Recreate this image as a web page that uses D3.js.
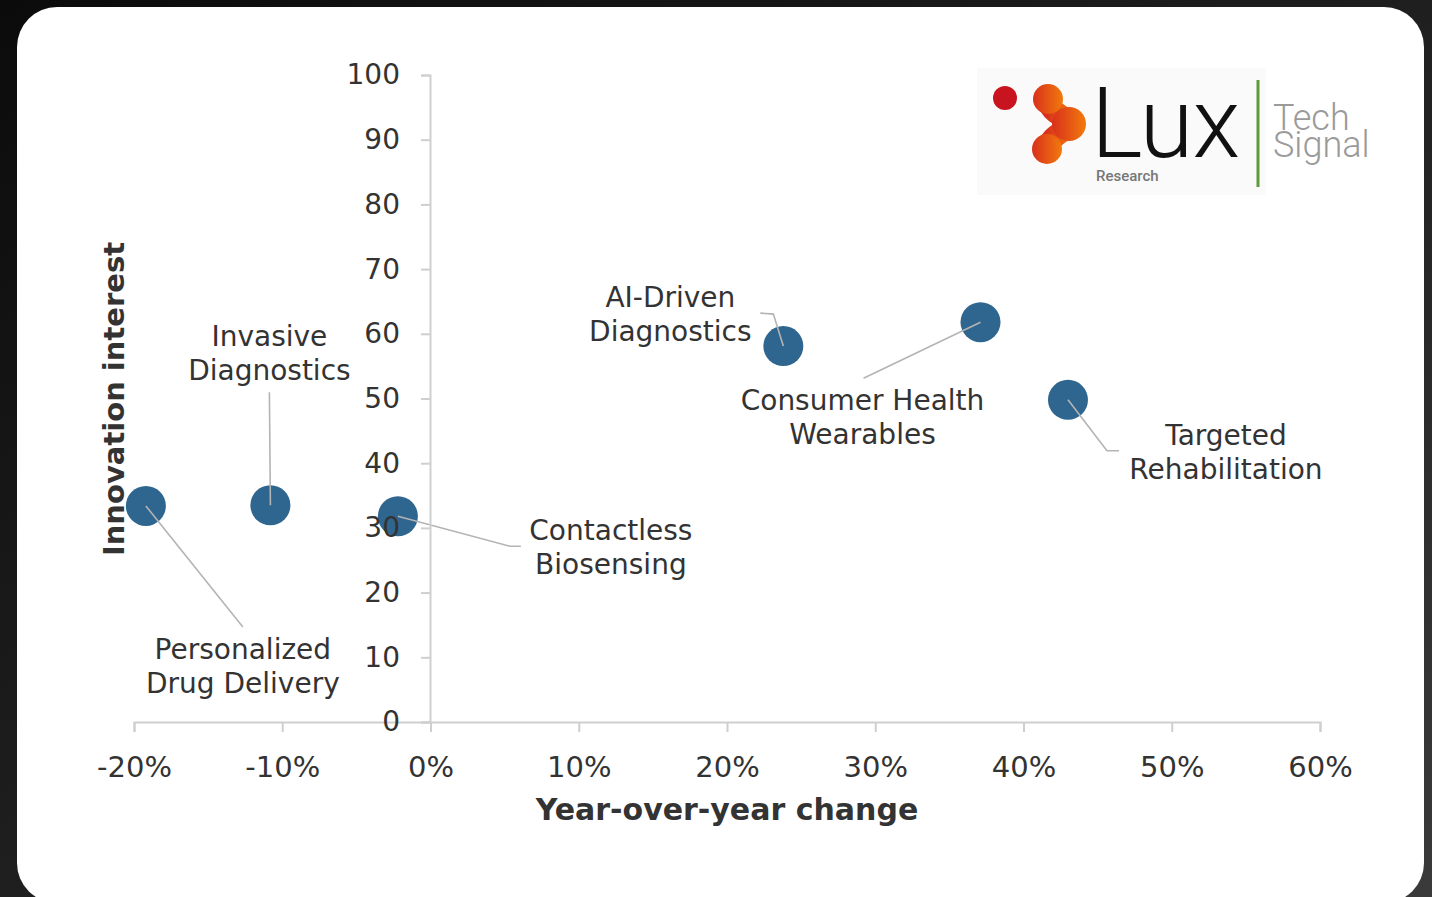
<!DOCTYPE html>
<html>
<head>
<meta charset="utf-8">
<script src="https://cdn.jsdelivr.net/npm/d3@7"></script>
<style>
  body { margin: 0; background: #111; }
  svg { display: block; }
</style>
</head>
<body>
<svg id="chart"></svg>
<script>
// technologies and their values
const technologies = [
  "Personalized Drug Delivery",
  "Invasive Diagnostics",
  "Contactless Biosensing",
  "AI-Driven Diagnostics",
  "Consumer Health Wearables",
  "Targeted Rehabilitation"
];
const labelLines = [
  ["Personalized", "Drug Delivery"],
  ["Invasive", "Diagnostics"],
  ["Contactless", "Biosensing"],
  ["AI-Driven", "Diagnostics"],
  ["Consumer Health", "Wearables"],
  ["Targeted", "Rehabilitation"]
];
const yoyChange = [-0.192, -0.108, -0.022, 0.238, 0.371, 0.430];
const innovationInterest = [33.4, 33.5, 31.8, 58.1, 61.8, 49.8];
const xTicks = [-0.2, -0.1, 0, 0.1, 0.2, 0.3, 0.4, 0.5, 0.6];
const yTicks = [0, 10, 20, 30, 40, 50, 60, 70, 80, 90, 100];

// label placement, pixel offsets from each point
const labelPlacement = [
  { dx: 97, dy: 153, leader: [[97, 121]] },
  { dx: -1, dy: -159, leader: [[-1, -113]] },
  { dx: 213, dy: 24, leader: [[112, 30], [123, 30]] },
  { dx: -113, dy: -39, leader: [[-10, -32], [-23, -33]] },
  { dx: -118, dy: 88, leader: [[-117, 56]] },
  { dx: 158, dy: 45, leader: [[39, 51], [51, 51]] }
];

const W = 1432, H = 897;
const font = "'DejaVu Sans', sans-serif";
const textColor = "#333";
const axisColor = "#cfcfcf";

const data = technologies.map((name, i) => ({
  name,
  lines: labelLines[i],
  x: yoyChange[i],
  y: innovationInterest[i],
  place: labelPlacement[i]
}));

const svg = d3.select("#chart").attr("width", W).attr("height", H);

// dark backdrop and white card
const defs = svg.append("defs");
const bg = defs.append("linearGradient").attr("id", "bg")
  .attr("x1", "0%").attr("y1", "0%").attr("x2", "100%").attr("y2", "100%");
bg.append("stop").attr("offset", "0%").attr("stop-color", "#0b0b0b");
bg.append("stop").attr("offset", "50%").attr("stop-color", "#1f1f1f");
bg.append("stop").attr("offset", "100%").attr("stop-color", "#3a3a3a");

svg.append("rect").attr("width", W).attr("height", H).attr("fill", "url(#bg)");
svg.append("rect")
  .attr("x", 17).attr("y", 7)
  .attr("width", 1407).attr("height", 896)
  .attr("rx", 40).attr("fill", "#fff");

const x = d3.scaleLinear().domain([-0.2, 0.6]).range([134, 1320]);
const y = d3.scaleLinear().domain([0, 100]).range([722, 75]);

// points
svg.append("g")
  .selectAll("circle")
  .data(data)
  .enter()
  .append("circle")
  .attr("cx", (d) => x(d.x))
  .attr("cy", (d) => y(d.y))
  .attr("r", 20)
  .attr("fill", "#2f668f");

// leader lines
svg.append("g")
  .selectAll("path")
  .data(data)
  .enter()
  .append("path")
  .attr("d", (d) => {
    const px = x(d.x), py = y(d.y);
    const pts = [[px, py]].concat(d.place.leader.map((o) => [px + o[0], py + o[1]]));
    return d3.line()(pts);
  })
  .attr("fill", "none")
  .attr("stroke", "#b4b4b4")
  .attr("stroke-width", 1.6);

// axes
const xAxis = svg.append("g")
  .attr("transform", "translate(0,722)")
  .call(d3.axisBottom(x).tickValues(xTicks).tickSize(10).tickPadding(24)
    .tickFormat((d) => d3.format(".0%")(d).replace("−", "-")));

const yAxis = svg.append("g")
  .attr("transform", "translate(430,0)")
  .call(d3.axisLeft(y).tickValues(yTicks).tickSize(9).tickPadding(21));

[xAxis, yAxis].forEach((g) => {
  g.selectAll("path, line").attr("stroke", axisColor).attr("stroke-width", 2);
  g.selectAll("text")
    .attr("fill", textColor)
    .style("font-family", font)
    .style("font-size", "28px");
});
xAxis.selectAll("text").style("font-size", "29px");

// axis titles
svg.append("text")
  .attr("x", 727).attr("y", 820)
  .attr("text-anchor", "middle")
  .attr("fill", textColor)
  .style("font-family", font)
  .style("font-weight", "bold")
  .style("font-size", "30px")
  .text("Year-over-year change");

svg.append("text")
  .attr("transform", "translate(124,399) rotate(-90)")
  .attr("text-anchor", "middle")
  .attr("fill", textColor)
  .style("font-family", font)
  .style("font-weight", "bold")
  .style("font-size", "29px")
  .text("Innovation interest");

// point labels
svg.append("g")
  .selectAll("text")
  .data(data)
  .enter()
  .append("text")
  .attr("text-anchor", "middle")
  .attr("fill", textColor)
  .style("font-family", font)
  .style("font-size", "28px")
  .attr("transform", (d) => `translate(${x(d.x) + d.place.dx},${y(d.y) + d.place.dy})`)
  .selectAll("tspan")
  .data((d) => d.lines)
  .enter()
  .append("tspan")
  .attr("x", 0)
  .attr("y", (d, i) => i * 34)
  .text((d) => d);

// Lux Research Tech Signal logo
const logo = svg.append("g");
logo.append("rect")
  .attr("x", 977).attr("y", 68).attr("width", 289).attr("height", 127)
  .attr("fill", "#fafafa");
logo.append("circle").attr("cx", 1005).attr("cy", 98).attr("r", 12).attr("fill", "#c8141e");

const og = defs.append("linearGradient").attr("id", "orange")
  .attr("x1", "0%").attr("y1", "0%").attr("x2", "100%").attr("y2", "0%");
og.append("stop").attr("offset", "0%").attr("stop-color", "#d8301c");
og.append("stop").attr("offset", "100%").attr("stop-color", "#f27a0c");

const mol = logo.append("g").attr("fill", "url(#orange)");
mol.append("path")
  .attr("d", "M1047,100 C1052,114 1062,114 1070,124 C1062,134 1052,134 1047,149")
  .attr("fill", "none")
  .attr("stroke", "url(#orange)")
  .attr("stroke-width", 22);
mol.append("circle").attr("cx", 1048).attr("cy", 99).attr("r", 15);
mol.append("circle").attr("cx", 1069).attr("cy", 124).attr("r", 17);
mol.append("circle").attr("cx", 1047).attr("cy", 149).attr("r", 15);

// wordmark: one text element so the tight logo lines stay together
const word = logo.append("text")
  .style("font-family", "Roboto, sans-serif");
word.append("tspan")
  .attr("x", 1091).attr("y", 157)
  .attr("fill", "#111")
  .style("font-weight", "300")
  .style("font-size", "98px")
  .style("letter-spacing", "-1px")
  .text("Lux");
word.append("tspan")
  .attr("x", 1096).attr("y", 181)
  .attr("fill", "#777")
  .style("font-weight", "500")
  .style("font-size", "15px")
  .style("letter-spacing", "0px")
  .text("Research");

logo.append("line")
  .attr("x1", 1258).attr("x2", 1258).attr("y1", 80).attr("y2", 187)
  .attr("stroke", "#5d9b3b").attr("stroke-width", 3);

const signal = logo.append("text")
  .attr("fill", "#9a9a9a")
  .style("font-family", "Roboto, sans-serif")
  .style("font-weight", "300")
  .style("font-size", "36px");
signal.append("tspan").attr("x", 1273).attr("y", 130).text("Tech");
signal.append("tspan").attr("x", 1273).attr("y", 157).text("Signal");
</script>
</body>
</html>
